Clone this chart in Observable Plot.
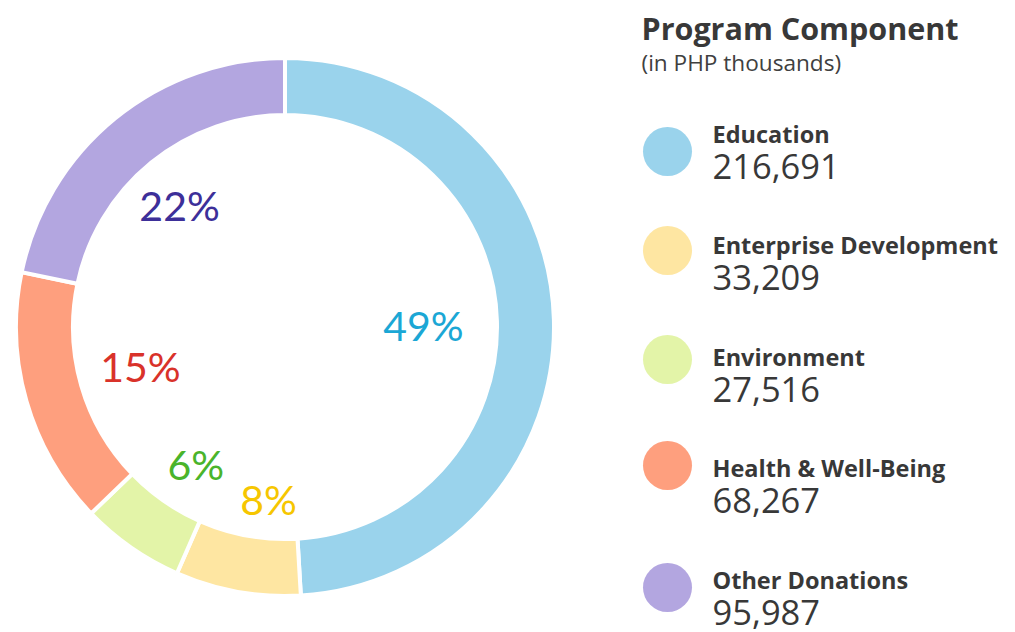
<!DOCTYPE html>
<html>
<head>
<meta charset="utf-8">
<script src="https://cdn.jsdelivr.net/npm/d3@7"></script>
<script src="https://cdn.jsdelivr.net/npm/@observablehq/plot@0.6"></script>
<style>
  html, body { margin: 0; padding: 0; background: #fff; }
  #chart { width: 1015px; height: 632px; }
</style>
</head>
<body>
<div id="chart"></div>
<script>
// ---- data ----
const categories = ["Education", "Enterprise Development", "Environment", "Health & Well-Being", "Other Donations"];
const amounts = [216691, 33209, 27516, 68267, 95987];
const sliceColors = ["#9ad3ec", "#fee6a2", "#e3f4a8", "#fe9f7e", "#b3a6e0"];
const labelColors = ["#1ba7d5", "#f6c600", "#4ab42b", "#d9322a", "#3d2f99"];
const titleText = "Program Component";
const subtitleText = "(in PHP thousands)";

// ---- layout (not data) ----
const W = 1015, H = 632;
const cx = 285, cy = 327, rOuter = 269, rInner = 212;
const labelAlong = [0.51, 0.33, 0.40, 0.50, 0.47];   // where along each slice the % sits
const labelRadius = [138, 175, 166, 151, 160];
const legendX = 667, legendTextX = 712, swatchR = 24.5;
const swatchY = [151, 250, 359, 465, 587];
const labelBase0 = 142, labelStep = 111.5, valueOffset = 36;

const total = d3.sum(amounts);
const rows = categories.map((c, i) => ({
  category: c, value: amounts[i], color: sliceColors[i], labelColor: labelColors[i],
  pct: Math.round(amounts[i] / total * 100) + "%"
}));
const arcs = d3.pie().sort(null).value(d => d.value).startAngle(0).endAngle(2 * Math.PI)(rows);
arcs.forEach((a, i) => {
  const ang = a.startAngle + (a.endAngle - a.startAngle) * labelAlong[i];
  a.lx = cx + labelRadius[i] * Math.sin(ang);
  a.ly = cy - labelRadius[i] * Math.cos(ang);
});
const legendRows = rows.map((r, i) => ({
  ...r, sy: swatchY[i], ly: labelBase0 + i * labelStep, vy: labelBase0 + i * labelStep + valueOffset,
  valueText: d3.format(",")(r.value)
}));

const arcGen = d3.arc().innerRadius(rInner).outerRadius(rOuter);

const donut = (index, scales) => {
  const g = d3.create("svg:g")
    .attr("transform", `translate(${scales.x(cx)},${scales.y(cy)})`);
  g.selectAll("path").data(arcs).join("path")
    .attr("d", arcGen)
    .attr("fill", d => d.data.color)
    .attr("stroke", "#fff")
    .attr("stroke-width", 4)
    .attr("stroke-linejoin", "miter");
  return g.node();
};

const legendFont = "'Open Sans', 'Noto Sans', sans-serif";

const plot = Plot.plot({
  width: W, height: H,
  margin: 0,
  x: {domain: [0, W], range: [0, W], axis: null},
  y: {domain: [0, H], range: [0, H], axis: null},
  style: {background: "#fff", overflow: "visible"},
  marks: [
    donut,
    Plot.text(arcs, {
      x: "lx", y: "ly", text: d => d.data.pct, fill: d => d.data.labelColor,
      fontSize: 41, fontWeight: 400, fontFamily: "Lato, 'Noto Sans', sans-serif", textAnchor: "middle", lineAnchor: "middle"
    }),
    Plot.text([titleText], {
      x: () => 641, y: () => 39, text: d => d, fill: "#383838", fontSize: 30.5, fontWeight: "bold",
      fontFamily: legendFont, textAnchor: "start", lineAnchor: "bottom"
    }),
    Plot.text([subtitleText], {
      x: () => 641, y: () => 70, text: d => d, fill: "#404040", fontSize: 22.6,
      fontFamily: legendFont, textAnchor: "start", lineAnchor: "bottom"
    }),
    Plot.dot(legendRows, {x: () => legendX, y: "sy", r: swatchR, fill: "color", stroke: null}),
    Plot.text(legendRows, {
      x: () => legendTextX, y: "ly", text: "category", fill: "#383838", fontSize: 23.5, fontWeight: "bold",
      fontFamily: legendFont, textAnchor: "start", lineAnchor: "bottom"
    }),
    Plot.text(legendRows, {
      x: () => legendTextX, y: "vy", text: "valueText", fill: "#383838", fontSize: 34.5,
      fontFamily: legendFont, textAnchor: "start", lineAnchor: "bottom"
    })
  ]
});
document.getElementById("chart").appendChild(plot);
</script>
</body>
</html>
